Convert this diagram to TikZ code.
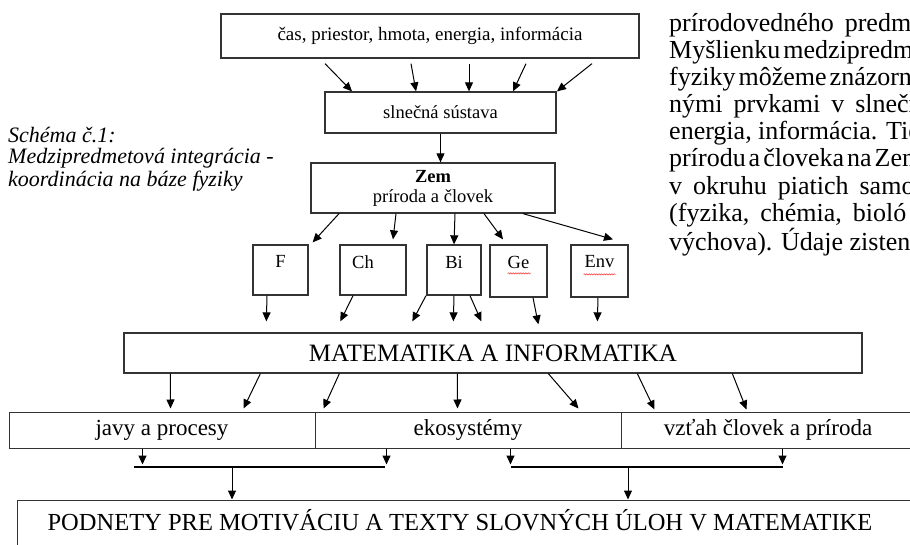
\documentclass[tikz,border=0pt]{standalone}
\usepackage{fontspec}
\setmainfont{Liberation Serif}
\usetikzlibrary{arrows.meta,calc,positioning,decorations.pathmorphing}

% word spacing of the justified lines on the right
\newcommand\widesp{\spaceskip=11pt\relax}
\newcommand\tightsp{\spaceskip=3pt\relax}

\tikzset{
  box/.style={draw=black!80, line width=1.3pt, inner sep=2pt},
  subj/.style={box, minimum width=#1, minimum height=50pt},
  lab/.style={anchor=north, yshift=-8pt, font=\fontsize{18.5}{20}\selectfont},
  row/.style={draw=black!80, line width=1pt, minimum width=306pt, minimum height=36pt, font=\fontsize{23}{26}\selectfont},
  arr/.style={line width=1pt, -{Triangle[length=9pt,width=8pt]}},
  body/.style={anchor=west, inner sep=0pt, font=\fontsize{26}{29}\selectfont},
  captxt/.style={anchor=west, inner sep=0pt, font=\fontsize{22}{24}\selectfont\itshape},
  squiggle/.style={red!80, line width=0.5pt, decorate, decoration={snake, amplitude=0.7pt, segment length=2.5pt}},
}

\begin{document}
\begin{tikzpicture}[x=1pt,y=1pt,yscale=-1]
\useasboundingbox (0,0) rectangle (910,545);
\clip (0,0) rectangle (910,545);

% boxes of the scheme
\node[box, minimum width=418pt, minimum height=44pt, font=\fontsize{19}{22}\selectfont] (top) at (430,36) {čas, priestor, hmota, energia, informácia};
\node[box, minimum width=231pt, minimum height=41pt, font=\fontsize{18.5}{20}\selectfont] (sun) at (440.5,112.5) {slnečná sústava};
\node[box, minimum width=244pt, minimum height=50pt, align=center, font=\fontsize{18.5}{20}\selectfont] (zem) at (433,188) {\textbf{Zem}\\príroda a človek};

\node[subj=55pt, label={[lab]north:F}] (F) at (280.5,270) {};
\node[subj=66pt, label={[lab, xshift=-10pt]north:Ch}] (Ch) at (373,270) {};
\node[subj=54pt, label={[lab]north:Bi}] (Bi) at (454,270) {};
\node[subj=57pt, minimum height=52pt, label={[lab]north:Ge}] (Ge) at (518.5,271) {};
\node[subj=57pt, minimum height=52pt, label={[lab]north:Env}] (Env) at (599.5,271) {};

\node[box, minimum width=738pt, minimum height=40pt, font=\fontsize{25}{27}\selectfont] (mat) at (493,353) {MATEMATIKA A INFORMATIKA};

\node[row] (javy) at (162,430) {javy a procesy};
\node[row] (eko) at (468,430) {ekosystémy};
\node[row, minimum width=294pt] (vztah) at (768,430) {vzťah človek a príroda};

\node[draw=black!80, line width=1pt, minimum width=898pt, minimum height=60pt,
  label={[yshift=10pt, xshift=-6pt, font=\fontsize{24.5}{26}\selectfont]center:PODNETY PRE MOTIVÁCIU A TEXTY SLOVNÝCH ÚLOH V MATEMATIKE}] (podnety) at (466,530) {};

% spelling marks
\draw[squiggle] ($(Ge.north)+(-11,29)$) -- ++(23,0);
\draw[squiggle] ($(Env.north)+(-16,30)$) -- ++(32,0);

% arrows
\foreach \a/\b in {-105/-88.5, -19/-24.5, 39/28.5, 96/72.5, 162/116.5}
  \draw[arr] ($(top.south)+(\a,5)$) -- ($(sun.north)+(\b,0)$);
\draw[arr] (sun.south) -- (sun.south |- zem.north);

\draw[arr] ($(zem.south)+(-94,0)$) -- ($(F.north east)+(4,-2)$);
\draw[arr] ($(zem.south)+(-37,0)$) -- ($(Ch.north)+(20,-5)$);
\draw[arr] ($(zem.south)+(22,0)$) -- (Bi.north);
\draw[arr] ($(zem.south)+(51,0)$) -- ($(Ge.north)+(-15.5,-5)$);
\draw[arr] ($(zem.south)+(90,0)$) -- ($(Env.north)+(13.5,-5)$);

\draw[arr] ($(F.south)+(-13.5,0)$) -- ($(mat.north west)+(143,-11)$);
\draw[arr] ($(Ch.south)+(-20,0)$) -- ($(mat.north west)+(217,-11)$);
\draw[arr] ($(Bi.south)+(-28,0)$) -- ($(mat.north west)+(289,-11)$);
\draw[arr] (Bi.south) -- ($(mat.north west)+(330,-11)$);
\draw[arr] ($(Bi.south)+(16,0)$) -- ($(mat.north west)+(358,-11)$);
\draw[arr] ($(Ge.south)+(14.5,0)$) -- ($(mat.north west)+(415,-8)$);
\draw[arr] ($(Env.south)+(-1.5,0)$) -- ($(mat.north west)+(474,-11)$);

\draw[arr] ($(mat.south west)+(47,0)$) -- ($(javy.north west)+(162,-3)$);
\draw[arr] ($(mat.south west)+(137,0)$) -- ($(javy.north west)+(235,-3)$);
\draw[arr] ($(mat.south west)+(216,0)$) -- ($(eko.north west)+(9,-3)$);
\draw[arr] ($(mat.south west)+(334,0)$) -- ($(eko.north west)+(143,-3)$);
\draw[arr] ($(mat.south west)+(425,0)$) -- ($(eko.north west)+(264,-3)$);
\draw[arr] ($(mat.south west)+(514,0)$) -- ($(vztah.north west)+(34,-2)$);
\draw[arr] ($(mat.south west)+(609,0)$) -- ($(vztah.north west)+(126,-2)$);

% collecting bars
\coordinate (bl1) at (134,467); \coordinate (bl2) at (385,467);
\coordinate (br1) at (511,467); \coordinate (br2) at (783,467);
\coordinate (bm1) at (232,467); \coordinate (bm2) at (628,467);
\draw[line width=1.3pt] (bl1) -- (bl2);
\draw[line width=1.3pt] (br1) -- (br2);
\draw[arr] ($(javy.south west)+(134,0)$) -- ++(0,16);
\draw[arr] ($(eko.south west)+(72,0)$) -- ++(0,16);
\draw[arr] ($(eko.south west)+(196,0)$) -- ++(0,16);
\draw[arr] ($(vztah.south west)+(162,0)$) -- ++(0,16);
\draw[arr] (bm1) -- (bm1 |- podnety.north);
\draw[arr] (bm2) -- (bm2 |- podnety.north);

% caption
\node[captxt] (cap1) at (8,135) {Schéma č.1:};
\node[captxt] (cap2) at (8,158) {Medzipredmetová integrácia -};
\node[captxt] (cap3) at (8,181) {koordinácia na báze fyziky};

% running text on the right
\node[body] (text1) at (669,25)  {\widesp prírodovedného predm};
\node[body] (text2) at (669,52)  {\tightsp Myšlienku medzipredme};
\node[body] (text3) at (669,79)  {\tightsp fyziky môžeme znázorn};
\node[body] (text4) at (669,106) {\widesp nými prvkami v slnečn};
\node[body] (text5) at (669,133) {energia, informácia. Tie};
\node[body] (text6) at (669,160) {\tightsp prírodu a človeka na Zem};
\node[body] (text7) at (669,188) {\widesp v okruhu piatich samo};
\node[body] (text8) at (669,215) {\widesp (fyzika, chémia, bioló};
\node[body] (text9) at (669,242) {výchova). Údaje zisten};

\end{tikzpicture}
\end{document}
